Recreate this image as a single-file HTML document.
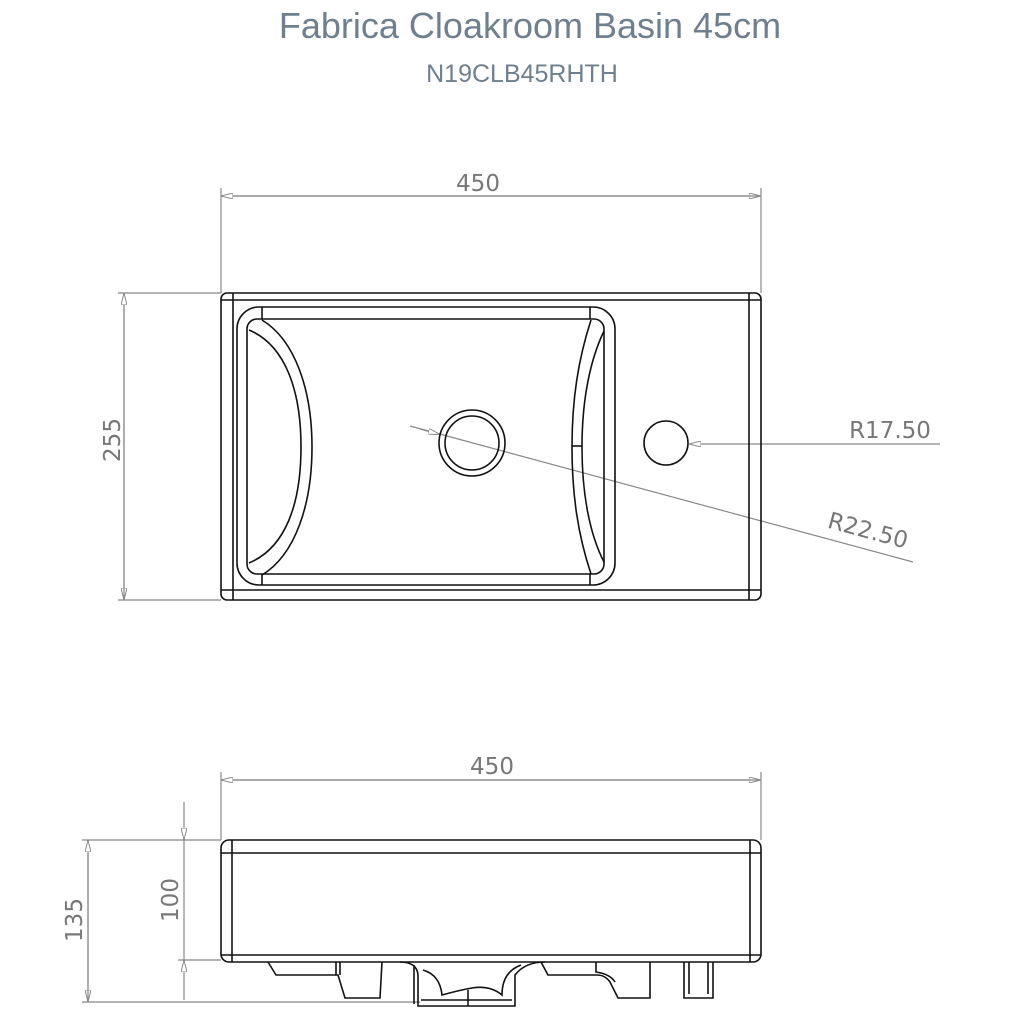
<!DOCTYPE html>
<html><head><meta charset="utf-8"><style>
html,body{margin:0;padding:0;background:#fff;}
svg{display:block;}
text{font-family:"DejaVu Sans","Liberation Sans",sans-serif;}
</style></head><body>
<svg width="1024" height="1024" viewBox="0 0 1024 1024" xmlns="http://www.w3.org/2000/svg">
<defs>
<marker id="a" viewBox="0 0 12 6" refX="12" refY="3" markerWidth="12" markerHeight="6" orient="auto" markerUnits="userSpaceOnUse">
<path d="M0,0 L12,3 L0,6 Z" fill="#fff" stroke="#888" stroke-width="1"/></marker>
</defs>
<text x="530" y="38" font-size="36" fill="#6e7f90" text-anchor="middle" style="font-family:'Liberation Sans',sans-serif">Fabrica Cloakroom Basin 45cm</text>
<text x="522" y="82" font-size="25" fill="#6e7f90" text-anchor="middle" style="font-family:'Liberation Sans',sans-serif">N19CLB45RHTH</text>

<g stroke="#888" stroke-width="1.2" fill="none">
<line x1="221" y1="188" x2="221" y2="293"/><line x1="761" y1="188" x2="761" y2="293"/>
<line x1="221" y1="196" x2="761" y2="196" marker-end="url(#a)"/>
<line x1="761" y1="196" x2="221" y2="196" marker-end="url(#a)"/>
<line x1="118" y1="293" x2="221" y2="293"/><line x1="118" y1="600" x2="221" y2="600"/>
<line x1="124" y1="293" x2="124" y2="600" marker-end="url(#a)"/>
<line x1="124" y1="600" x2="124" y2="293" marker-end="url(#a)"/>
<line x1="940" y1="444" x2="689" y2="444" marker-end="url(#a)"/>
<line x1="913" y1="562" x2="410" y2="426"/>
<line x1="420" y1="429" x2="440" y2="434.5" marker-end="url(#a)"/>
<line x1="221" y1="772" x2="221" y2="840"/><line x1="761" y1="772" x2="761" y2="840"/>
<line x1="221" y1="780" x2="761" y2="780" marker-end="url(#a)"/>
<line x1="761" y1="780" x2="221" y2="780" marker-end="url(#a)"/>
<line x1="82" y1="840" x2="221" y2="840"/><line x1="178" y1="960" x2="221" y2="960"/>
<line x1="82" y1="1002" x2="420" y2="1002"/>
<line x1="184" y1="802" x2="184" y2="840" marker-end="url(#a)"/>
<line x1="184" y1="1000" x2="184" y2="960" marker-end="url(#a)"/>
<line x1="184" y1="840" x2="184" y2="960"/>
<line x1="88" y1="840" x2="88" y2="1002" marker-end="url(#a)"/>
<line x1="88" y1="1002" x2="88" y2="840" marker-end="url(#a)"/>
</g>
<g fill="#777" font-size="23">
<text x="478" y="191" text-anchor="middle">450</text>
<text x="492" y="774" text-anchor="middle">450</text>
<text x="890" y="438" text-anchor="middle">R17.50</text>
<text transform="translate(866,538) rotate(15)" text-anchor="middle">R22.50</text>
<text transform="translate(120,440) rotate(-90)" text-anchor="middle">255</text>
<text transform="translate(178,900) rotate(-90)" text-anchor="middle">100</text>
<text transform="translate(82,920) rotate(-90)" text-anchor="middle">135</text>
</g>

<g stroke="#111" stroke-width="1.6" fill="none">
<rect x="221" y="293" width="540" height="307" rx="6"/>
<line x1="221" y1="300" x2="761" y2="300"/>
<line x1="221" y1="590" x2="761" y2="590"/>
<line x1="233" y1="293" x2="233" y2="600"/>
<line x1="749" y1="293" x2="749" y2="600"/>
<rect x="237" y="307" width="378" height="278" rx="22"/>
<rect x="247" y="319" width="357" height="255" rx="10"/>
<line x1="262" y1="307" x2="262" y2="319"/><line x1="590" y1="307" x2="590" y2="319"/>
<line x1="262" y1="574" x2="262" y2="585"/><line x1="590" y1="574" x2="590" y2="585"/>
<path d="M262,320 C295,340 312,390 312,447 C312,505 295,555 262,575"/>
<path d="M249,330 C285,345 301,390 301,447 C301,505 285,548 249,563"/>
<path d="M591,320 C578,360 572,400 572,447 C572,495 578,535 591,574"/>
<path d="M604,331 C590,360 582,400 582,447 C582,495 590,535 604,562"/>
<line x1="572" y1="446" x2="582" y2="446"/>
<circle cx="472" cy="443" r="33"/><circle cx="472" cy="443" r="27"/>
<circle cx="666" cy="443" r="22"/>

<rect x="221" y="840" width="540" height="122" rx="8"/>
<line x1="221" y1="853" x2="761" y2="853"/>
<line x1="221" y1="955" x2="761" y2="955"/>
<line x1="232" y1="840" x2="232" y2="962"/>
<line x1="750" y1="840" x2="750" y2="962"/>
<path d="M268,962 L276,975 L338,975 L345,998 L380,998 L382,962"/>
<path d="M336,962 L336,975 M340,962 L340,975"/>
<path d="M400,962 Q417,962 418,975 L418,1006 L515,1006 L515,975 Q525,962 545,962"/>
<path d="M414,965 L414,1004 M421,1000 L512,1000"/>
<path d="M423,970 Q440,975 442,995 Q460,990 472,988 Q490,985 502,995 Q502,972 521,965"/>
<line x1="468" y1="990" x2="468" y2="1006"/>
<path d="M541,962 L548,975 L597,975 Q605,975 610,982 L618,998 L650,998 L650,962"/>
<path d="M596,962 L596,972 Q610,974 615,982"/>
<path d="M684,962 L684,998 L713,998 L713,962 M689,962 L689,994 M708,962 L708,994"/>
</g>
</svg>
</body></html>
